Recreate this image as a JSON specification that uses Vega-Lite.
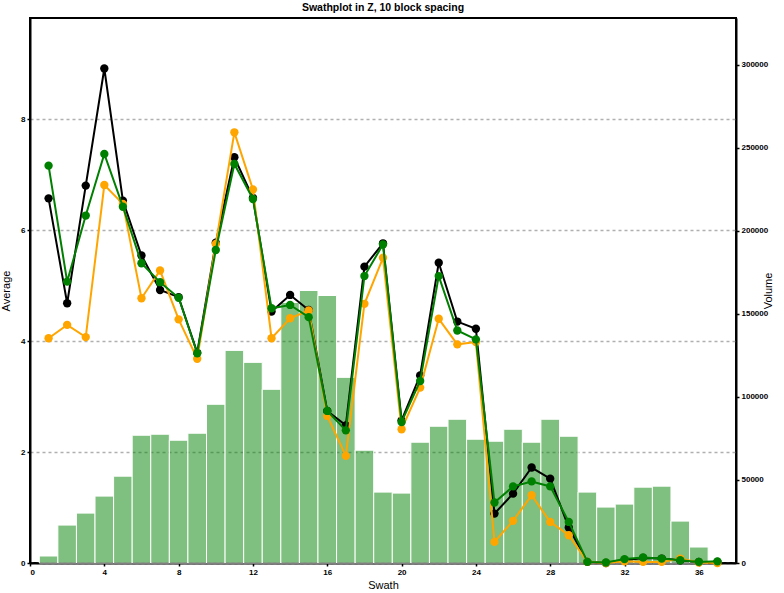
{
  "$schema": "https://vega.github.io/schema/vega-lite/v6.json",
  "autosize": {"type": "none"},
  "padding": {"left": 30, "top": 18, "right": 48, "bottom": 30},
  "width": 706,
  "height": 545,
  "title": {"text": "Swathplot in Z, 10 block spacing", "font": "Liberation Sans", "fontSize": 10.5, "fontWeight": "bold", "color": "black", "offset": 5},
  "config": {
    "view": {"stroke": "black", "strokeWidth": 2},
    "axis": {
      "labelFont": "Liberation Sans", "labelFontSize": 8, "labelFontWeight": "bold", "labelColor": "black",
      "titleFont": "Liberation Sans", "titleFontSize": 11, "titleFontWeight": "normal", "titleColor": "black",
      "domainColor": "black", "domainWidth": 2, "tickColor": "black", "tickSize": 3, "tickWidth": 1.5, "labelPadding": 2
    }
  },
  "data": {
    "values": [
      {"Swath": 1, "Volume": 4210, "Avg1": 6.57, "Avg2": 4.05, "Avg3": 7.16},
      {"Swath": 2, "Volume": 22850, "Avg1": 4.68, "Avg2": 4.29, "Avg3": 5.07},
      {"Swath": 3, "Volume": 30060, "Avg1": 6.80, "Avg2": 4.07, "Avg3": 6.26},
      {"Swath": 4, "Volume": 40280, "Avg1": 8.91, "Avg2": 6.81, "Avg3": 7.37},
      {"Swath": 5, "Volume": 52300, "Avg1": 6.53, "Avg2": 6.47, "Avg3": 6.42},
      {"Swath": 6, "Volume": 76950, "Avg1": 5.54, "Avg2": 4.77, "Avg3": 5.40},
      {"Swath": 7, "Volume": 77560, "Avg1": 4.92, "Avg2": 5.27, "Avg3": 5.06},
      {"Swath": 8, "Volume": 73950, "Avg1": 4.79, "Avg2": 4.39, "Avg3": 4.78},
      {"Swath": 9, "Volume": 78160, "Avg1": 3.79, "Avg2": 3.68, "Avg3": 3.78},
      {"Swath": 10, "Volume": 95590, "Avg1": 5.77, "Avg2": 5.75, "Avg3": 5.64},
      {"Swath": 11, "Volume": 128060, "Avg1": 7.31, "Avg2": 7.76, "Avg3": 7.19},
      {"Swath": 12, "Volume": 120840, "Avg1": 6.58, "Avg2": 6.73, "Avg3": 6.56},
      {"Swath": 13, "Volume": 104610, "Avg1": 4.53, "Avg2": 4.05, "Avg3": 4.59},
      {"Swath": 14, "Volume": 156910, "Avg1": 4.83, "Avg2": 4.41, "Avg3": 4.65},
      {"Swath": 15, "Volume": 164130, "Avg1": 4.56, "Avg2": 4.55, "Avg3": 4.43},
      {"Swath": 16, "Volume": 161120, "Avg1": 2.74, "Avg2": 2.65, "Avg3": 2.74},
      {"Swath": 17, "Volume": 111820, "Avg1": 2.48, "Avg2": 1.93, "Avg3": 2.39},
      {"Swath": 18, "Volume": 67940, "Avg1": 5.34, "Avg2": 4.67, "Avg3": 5.17},
      {"Swath": 19, "Volume": 42690, "Avg1": 5.76, "Avg2": 5.50, "Avg3": 5.74},
      {"Swath": 20, "Volume": 42090, "Avg1": 2.57, "Avg2": 2.41, "Avg3": 2.54},
      {"Swath": 21, "Volume": 72750, "Avg1": 3.38, "Avg2": 3.16, "Avg3": 3.28},
      {"Swath": 22, "Volume": 82370, "Avg1": 5.41, "Avg2": 4.40, "Avg3": 5.17},
      {"Swath": 23, "Volume": 86580, "Avg1": 4.35, "Avg2": 3.94, "Avg3": 4.19},
      {"Swath": 24, "Volume": 74550, "Avg1": 4.22, "Avg2": 3.98, "Avg3": 4.03},
      {"Swath": 25, "Volume": 73350, "Avg1": 0.89, "Avg2": 0.38, "Avg3": 1.09},
      {"Swath": 26, "Volume": 80560, "Avg1": 1.25, "Avg2": 0.76, "Avg3": 1.38},
      {"Swath": 27, "Volume": 72750, "Avg1": 1.72, "Avg2": 1.22, "Avg3": 1.47},
      {"Swath": 28, "Volume": 86580, "Avg1": 1.52, "Avg2": 0.74, "Avg3": 1.38},
      {"Swath": 29, "Volume": 76350, "Avg1": 0.64, "Avg2": 0.50, "Avg3": 0.74},
      {"Swath": 30, "Volume": 42690, "Avg1": 0.02, "Avg2": 0.02, "Avg3": 0.02},
      {"Swath": 31, "Volume": 33670, "Avg1": 0.00, "Avg2": 0.00, "Avg3": 0.01},
      {"Swath": 32, "Volume": 35470, "Avg1": 0.05, "Avg2": 0.03, "Avg3": 0.07},
      {"Swath": 33, "Volume": 45690, "Avg1": 0.09, "Avg2": 0.02, "Avg3": 0.10},
      {"Swath": 34, "Volume": 46290, "Avg1": 0.08, "Avg2": 0.02, "Avg3": 0.08},
      {"Swath": 35, "Volume": 25250, "Avg1": 0.05, "Avg2": 0.08, "Avg3": 0.05},
      {"Swath": 36, "Volume": 9620, "Avg1": 0.02, "Avg2": 0.01, "Avg3": 0.02},
      {"Swath": 37, "Volume": null, "Avg1": 0.02, "Avg2": 0.00, "Avg3": 0.03}
    ]
  },
  "encoding": {
    "x": {
      "field": "Swath", "type": "quantitative",
      "scale": {"domain": [0, 38], "nice": false, "zero": false, "padding": 0},
      "axis": {"title": "Swath", "values": [0, 4, 8, 12, 16, 20, 24, 28, 32, 36], "grid": false, "titlePadding": 3}
    }
  },
  "layer": [
    {
      "mark": {"type": "bar", "width": 18.58, "fill": "#008000", "fillOpacity": 0.5, "stroke": "white", "strokeWidth": 1},
      "encoding": {
        "y": {
          "field": "Volume", "type": "quantitative",
          "scale": {"domain": [0, 328260], "nice": false},
          "axis": {"orient": "right", "title": "Volume", "titleAngle": 270, "values": [0, 50000, 100000, 150000, 200000, 250000, 300000], "format": "d", "grid": false, "titlePadding": 6}
        }
      }
    },
    {
      "encoding": {
        "y": {
          "type": "quantitative",
          "scale": {"domain": [0, 9.82], "nice": false},
          "axis": {"title": "Average", "values": [0, 2, 4, 6, 8], "grid": true, "gridDash": [3, 3], "gridColor": "#b0b0b0", "gridWidth": 1.3, "titlePadding": 9}
        }
      },
      "layer": [
        {"mark": {"type": "line", "color": "black", "strokeWidth": 2, "point": {"filled": true, "size": 70, "color": "black", "opacity": 1}}, "encoding": {"y": {"field": "Avg1", "type": "quantitative"}}},
        {"mark": {"type": "line", "color": "#FFA500", "strokeWidth": 2, "point": {"filled": true, "size": 70, "color": "#FFA500", "opacity": 1}}, "encoding": {"y": {"field": "Avg2", "type": "quantitative"}}},
        {"mark": {"type": "line", "color": "#008000", "strokeWidth": 2, "point": {"filled": true, "size": 70, "color": "#008000", "opacity": 1}}, "encoding": {"y": {"field": "Avg3", "type": "quantitative"}}}
      ]
    }
  ],
  "resolve": {"scale": {"y": "independent"}}
}
